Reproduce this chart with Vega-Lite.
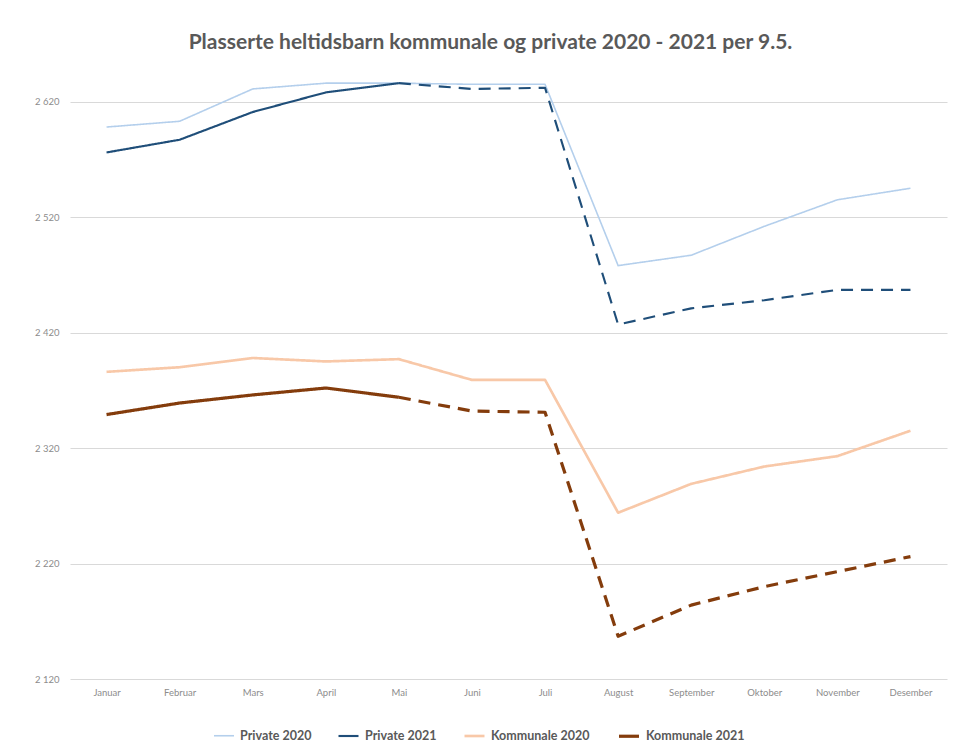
{
  "$schema": "https://vega.github.io/schema/vega-lite/v6.json",
  "autosize": "none",
  "width": 877,
  "height": 612,
  "padding": {"left": 70, "top": 67, "right": 7, "bottom": 64},
  "background": "white",
  "title": {
    "text": "Plasserte heltidsbarn kommunale og private 2020 - 2021 per 9.5.",
    "font": "Lato",
    "fontSize": 21,
    "fontWeight": "bold",
    "color": "#595959",
    "anchor": "middle",
    "dx": -18,
    "offset": 14
  },
  "config": {
    "view": {"stroke": null},
    "font": "Lato"
  },
  "data": {
    "values": [
      {"serie": "Private 2020", "maned": "Januar", "verdi": 2598, "del": "faktisk"},
      {"serie": "Private 2020", "maned": "Februar", "verdi": 2603, "del": "faktisk"},
      {"serie": "Private 2020", "maned": "Mars", "verdi": 2631, "del": "faktisk"},
      {"serie": "Private 2020", "maned": "April", "verdi": 2636, "del": "faktisk"},
      {"serie": "Private 2020", "maned": "Mai", "verdi": 2636, "del": "faktisk"},
      {"serie": "Private 2020", "maned": "Juni", "verdi": 2635, "del": "faktisk"},
      {"serie": "Private 2020", "maned": "Juli", "verdi": 2635, "del": "faktisk"},
      {"serie": "Private 2020", "maned": "August", "verdi": 2478, "del": "faktisk"},
      {"serie": "Private 2020", "maned": "September", "verdi": 2487, "del": "faktisk"},
      {"serie": "Private 2020", "maned": "Oktober", "verdi": 2512, "del": "faktisk"},
      {"serie": "Private 2020", "maned": "November", "verdi": 2535, "del": "faktisk"},
      {"serie": "Private 2020", "maned": "Desember", "verdi": 2545, "del": "faktisk"},

      {"serie": "Private 2021", "maned": "Januar", "verdi": 2576, "del": "faktisk"},
      {"serie": "Private 2021", "maned": "Februar", "verdi": 2587, "del": "faktisk"},
      {"serie": "Private 2021", "maned": "Mars", "verdi": 2611, "del": "faktisk"},
      {"serie": "Private 2021", "maned": "April", "verdi": 2628, "del": "faktisk"},
      {"serie": "Private 2021", "maned": "Mai", "verdi": 2636, "del": "faktisk"},
      {"serie": "Private 2021", "maned": "Mai", "verdi": 2636, "del": "prognose"},
      {"serie": "Private 2021", "maned": "Juni", "verdi": 2631, "del": "prognose"},
      {"serie": "Private 2021", "maned": "Juli", "verdi": 2632, "del": "prognose"},
      {"serie": "Private 2021", "maned": "August", "verdi": 2427, "del": "prognose"},
      {"serie": "Private 2021", "maned": "September", "verdi": 2441, "del": "prognose"},
      {"serie": "Private 2021", "maned": "Oktober", "verdi": 2448, "del": "prognose"},
      {"serie": "Private 2021", "maned": "November", "verdi": 2457, "del": "prognose"},
      {"serie": "Private 2021", "maned": "Desember", "verdi": 2457, "del": "prognose"},

      {"serie": "Kommunale 2020", "maned": "Januar", "verdi": 2386, "del": "faktisk"},
      {"serie": "Kommunale 2020", "maned": "Februar", "verdi": 2390, "del": "faktisk"},
      {"serie": "Kommunale 2020", "maned": "Mars", "verdi": 2398, "del": "faktisk"},
      {"serie": "Kommunale 2020", "maned": "April", "verdi": 2395, "del": "faktisk"},
      {"serie": "Kommunale 2020", "maned": "Mai", "verdi": 2397, "del": "faktisk"},
      {"serie": "Kommunale 2020", "maned": "Juni", "verdi": 2379, "del": "faktisk"},
      {"serie": "Kommunale 2020", "maned": "Juli", "verdi": 2379, "del": "faktisk"},
      {"serie": "Kommunale 2020", "maned": "August", "verdi": 2264, "del": "faktisk"},
      {"serie": "Kommunale 2020", "maned": "September", "verdi": 2289, "del": "faktisk"},
      {"serie": "Kommunale 2020", "maned": "Oktober", "verdi": 2304, "del": "faktisk"},
      {"serie": "Kommunale 2020", "maned": "November", "verdi": 2313, "del": "faktisk"},
      {"serie": "Kommunale 2020", "maned": "Desember", "verdi": 2335, "del": "faktisk"},

      {"serie": "Kommunale 2021", "maned": "Januar", "verdi": 2349, "del": "faktisk"},
      {"serie": "Kommunale 2021", "maned": "Februar", "verdi": 2359, "del": "faktisk"},
      {"serie": "Kommunale 2021", "maned": "Mars", "verdi": 2366, "del": "faktisk"},
      {"serie": "Kommunale 2021", "maned": "April", "verdi": 2372, "del": "faktisk"},
      {"serie": "Kommunale 2021", "maned": "Mai", "verdi": 2364, "del": "faktisk"},
      {"serie": "Kommunale 2021", "maned": "Mai", "verdi": 2364, "del": "prognose"},
      {"serie": "Kommunale 2021", "maned": "Juni", "verdi": 2352, "del": "prognose"},
      {"serie": "Kommunale 2021", "maned": "Juli", "verdi": 2351, "del": "prognose"},
      {"serie": "Kommunale 2021", "maned": "August", "verdi": 2157, "del": "prognose"},
      {"serie": "Kommunale 2021", "maned": "September", "verdi": 2184, "del": "prognose"},
      {"serie": "Kommunale 2021", "maned": "Oktober", "verdi": 2200, "del": "prognose"},
      {"serie": "Kommunale 2021", "maned": "November", "verdi": 2213, "del": "prognose"},
      {"serie": "Kommunale 2021", "maned": "Desember", "verdi": 2226, "del": "prognose"}
    ]
  },
  "mark": {"type": "line", "strokeCap": "butt", "strokeJoin": "round"},
  "encoding": {
    "x": {
      "field": "maned",
      "type": "nominal",
      "sort": ["Januar", "Februar", "Mars", "April", "Mai", "Juni", "Juli", "August", "September", "Oktober", "November", "Desember"],
      "scale": {"type": "point", "padding": 0.5},
      "axis": {
        "title": null,
        "labelAngle": 0,
        "ticks": false,
        "domain": false,
        "grid": false,
        "labelFontSize": 9.5,
        "labelColor": "#8c8c8c",
        "labelPadding": 8,
        "labelFont": "Lato"
      }
    },
    "y": {
      "field": "verdi",
      "type": "quantitative",
      "scale": {"domain": [2120, 2650], "nice": false, "zero": false},
      "axis": {
        "title": null,
        "values": [2120, 2220, 2320, 2420, 2520, 2620],
        "labelExpr": "replace(format(datum.value, ','), ',', ' ')",
        "domain": false,
        "ticks": false,
        "gridColor": "#d9d9d9",
        "gridWidth": 1,
        "labelFontSize": 9.5,
        "labelColor": "#8c8c8c",
        "labelPadding": 11,
        "labelFont": "Lato"
      }
    },
    "color": {
      "field": "serie",
      "type": "nominal",
      "scale": {
        "domain": ["Private 2020", "Private 2021", "Kommunale 2020", "Kommunale 2021"],
        "range": ["#b4cfec", "#1f4e79", "#f8c8a8", "#843c0c"]
      },
      "legend": {
        "title": null,
        "orient": "none",
        "legendX": 143,
        "legendY": 657,
        "direction": "horizontal",
        "labelFontSize": 12.5,
        "labelFontWeight": "bold",
        "labelColor": "#595959",
        "labelFont": "Lato",
        "symbolType": "stroke",
        "symbolSize": 400,
        "columnPadding": 22,
        "labelOffset": 5
      }
    },
    "strokeWidth": {
      "field": "serie",
      "type": "nominal",
      "scale": {
        "domain": ["Private 2020", "Private 2021", "Kommunale 2020", "Kommunale 2021"],
        "range": [1.6, 3.2, 1.6, 3.2]
      },
      "legend": {
        "title": null,
        "orient": "none",
        "legendX": 143,
        "legendY": 657,
        "direction": "horizontal",
        "labelFontSize": 12.5,
        "labelFontWeight": "bold",
        "labelColor": "#595959",
        "labelFont": "Lato",
        "symbolType": "stroke",
        "symbolSize": 400,
        "columnPadding": 22,
        "labelOffset": 5
      }
    },
    "strokeDash": {
      "field": "del",
      "type": "nominal",
      "scale": {"domain": ["faktisk", "prognose"], "range": [[1, 0], [12, 8]]},
      "legend": null
    }
  }
}
